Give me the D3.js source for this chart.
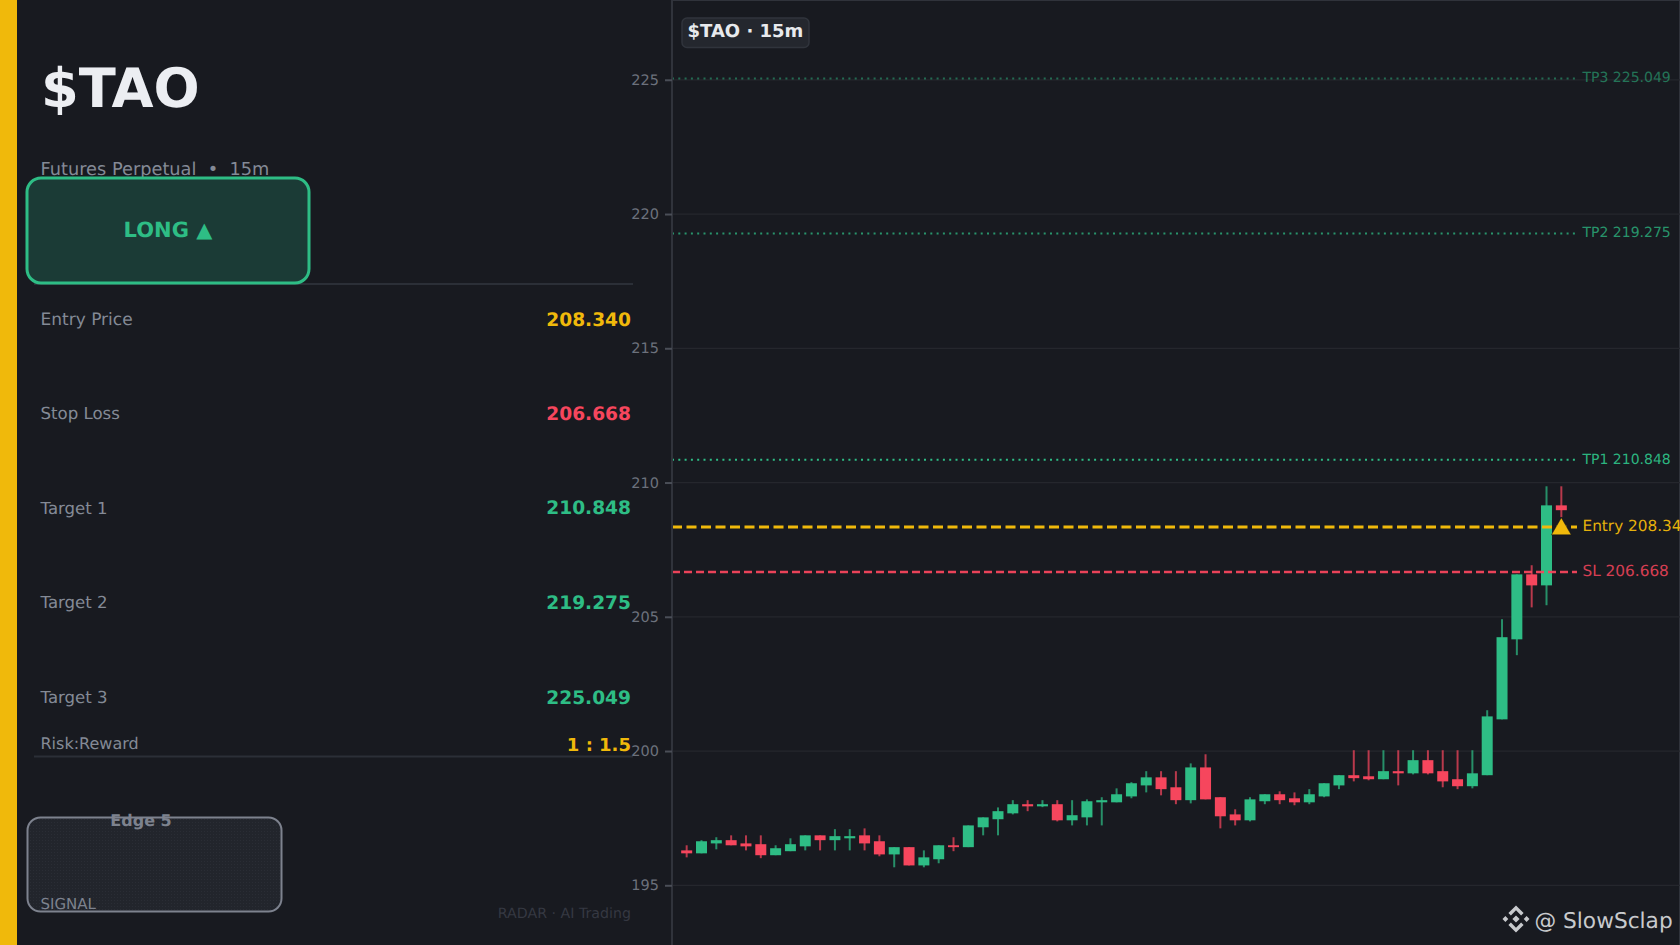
<!DOCTYPE html>
<html><head><meta charset="utf-8">
<script src="https://cdn.jsdelivr.net/npm/d3@7/dist/d3.min.js"></script>
<style>html,body{margin:0;padding:0;background:#181a20;overflow:hidden}svg{display:block}text{font-family:"DejaVu Sans",sans-serif;white-space:pre;text-rendering:geometricPrecision}</style>
</head><body><svg id="c" width="1680" height="945"></svg>
<script>
const opens=[196.30,196.19,196.56,196.68,196.56,196.53,196.12,196.27,196.45,196.86,196.68,196.75,196.86,196.64,196.15,196.42,195.74,195.97,196.49,196.42,197.16,197.46,197.68,198.02,197.94,198.02,197.42,197.53,198.09,198.09,198.31,198.72,199.02,198.65,198.17,199.39,198.28,197.64,197.42,198.13,198.39,198.24,198.09,198.31,198.72,199.10,199.06,198.95,199.25,199.17,199.66,199.25,198.95,198.69,199.10,201.18,204.16,206.58,206.17,209.15];
const highs=[196.49,196.68,196.79,196.86,196.86,196.86,196.49,196.75,196.86,196.86,197.09,197.09,197.12,196.86,196.42,196.42,196.30,196.49,196.79,197.23,197.53,197.90,198.17,198.17,198.17,198.17,198.17,198.20,198.28,198.61,198.84,199.25,199.25,199.25,199.54,199.88,198.28,197.83,198.28,198.39,198.50,198.46,198.58,198.80,199.10,200.03,200.03,200.03,200.03,200.03,200.03,200.03,200.03,200.03,201.52,204.91,206.58,206.92,209.86,209.86];
const lows=[196.04,196.19,196.34,196.49,196.30,196.01,196.12,196.27,196.30,196.30,196.30,196.30,196.30,196.08,195.67,195.74,195.67,195.82,196.27,196.42,196.86,196.86,197.64,197.76,197.91,197.38,197.23,197.23,197.23,198.09,198.24,198.46,198.35,198.02,198.05,198.20,197.12,197.23,197.38,198.02,198.02,197.98,198.02,198.28,198.58,198.87,198.91,198.95,198.72,199.13,199.13,198.65,198.58,198.61,199.10,201.18,203.57,205.35,205.43,208.71];
const closes=[196.19,196.64,196.68,196.49,196.45,196.12,196.38,196.53,196.86,196.68,196.83,196.83,196.56,196.15,196.42,195.74,196.04,196.49,196.42,197.23,197.53,197.76,198.02,197.94,198.02,197.42,197.61,198.13,198.17,198.39,198.80,199.02,198.58,198.17,199.39,198.20,197.57,197.42,198.20,198.39,198.17,198.09,198.39,198.80,199.10,198.99,198.95,199.25,199.17,199.66,199.17,198.87,198.69,199.17,201.29,204.24,206.58,206.17,209.15,208.97];
const priceTicks=[195,200,205,210,215,220,225];
const levelNames=["TP3 225.049","TP2 219.275","TP1 210.848","Entry 208.340","SL 206.668"];
const levelValues=[225.049,219.275,210.848,208.340,206.668];
const rowLabels=["Entry Price","Stop Loss","Target 1","Target 2","Target 3"];
const rowValues=["208.340","206.668","210.848","219.275","225.049"];
const entryPrice=208.340;

const GREEN="#2ebd85",RED="#f6465d",YEL="#f0b90b",BG="#181a20",GRAY="#848a96";
const svg=d3.select("#c");
const defs=svg.append("defs");
const pat=defs.append("pattern").attr("id","dots").attr("width",3).attr("height",3).attr("patternUnits","userSpaceOnUse");
pat.append("rect").attr("width",3).attr("height",3).attr("fill","#22252c");
pat.append("rect").attr("width",1).attr("height",1).attr("fill","#2a2d35");
svg.append("rect").attr("width",1680).attr("height",945).attr("fill",BG);
const T=(sel,x,y,t,o={})=>sel.append("text").attr("x",x).attr("y",y).text(t)
  .attr("font-size",o.s||16).attr("font-weight",o.w||400).attr("fill",o.c||GRAY)
  .attr("text-anchor",o.a||"start").attr("font-family",o.f||null);

/* left panel */
const L=svg.append("g");
L.append("rect").attr("width",17).attr("height",945).attr("fill",YEL);
T(L,41,107,"$TAO",{s:54.3,w:700,c:"#eceef2"});
T(L,40.5,175,"Futures Perpetual  •  15m",{s:17.75});
L.append("line").attr("x1",34).attr("x2",633).attr("y1",284).attr("y2",284).attr("stroke","#2b2f37").attr("stroke-width",2);
L.append("rect").attr("x",27).attr("y",178).attr("width",282).attr("height",105).attr("rx",14)
  .attr("fill","#1b3b36").attr("stroke",GREEN).attr("stroke-width",3);
T(L,168,236.5,"LONG ▲",{s:21,w:700,c:GREEN,a:"middle"});
const rowY=[325,419.3,513.6,607.9,702.7];
const rowSizes=[17,16.6,16.6,16.6,16.6];
rowLabels.forEach((r,i)=>{
  T(L,40.5,rowY[i],r,{s:rowSizes[i]});
  T(L,631,rowY[i]+0.8,rowValues[i],{s:18.6,w:700,a:"end",c:i==0?YEL:i==1?RED:GREEN});
});
T(L,40.5,749,"Risk:Reward",{s:16});
T(L,631,750.5,"1 : 1.5",{s:18,w:700,a:"end",c:YEL});
L.append("line").attr("x1",34).attr("x2",633).attr("y1",756.5).attr("y2",756.5).attr("stroke","#2b2f37").attr("stroke-width",2);
L.append("rect").attr("x",27.5).attr("y",817.5).attr("width",254).attr("height",94).attr("rx",13)
  .attr("fill","url(#dots)").attr("stroke","#7d828e").attr("stroke-width",2);
T(L,141,826,"Edge 5",{s:16,w:700,c:"#7d828e",a:"middle"});
T(L,40.5,909,"SIGNAL",{s:15,c:"#7d828e"});
T(L,631,918,"RADAR · AI Trading",{s:14.2,c:"#353842",a:"end"});

/* chart */
const y=d3.scaleLinear().domain([192.765,227.96]).range([945.3,0.3]);
const x=d3.scaleLinear().domain([0,opens.length-1]).range([686.67,1561.33]);
const G=svg.append("g");
G.append("line").attr("x1",672).attr("x2",1680).attr("y1",0.5).attr("y2",0.5).attr("stroke","#30333b");
G.append("line").attr("x1",1679.5).attr("x2",1679.5).attr("y1",0).attr("y2",945).attr("stroke","#30333b");
G.selectAll(".g").data(priceTicks).join("line").attr("x1",672).attr("x2",1680)
  .attr("y1",d=>y(d)).attr("y2",d=>y(d)).attr("stroke","#25272d").attr("stroke-width",1.2);
const ax=svg.append("g").attr("transform","translate(672,0)").call(d3.axisLeft(y).tickValues(priceTicks).tickSize(7).tickPadding(6).tickFormat(d3.format("d")));
ax.select(".domain").attr("d","M0,0V945").attr("stroke","#30333b").attr("stroke-width",2);
ax.selectAll(".tick line").attr("stroke","#4a4e57").attr("stroke-width",2);
ax.selectAll(".tick text").attr("fill","#6c717c").attr("font-size",14.5).attr("font-family","DejaVu Sans");

/* candles */
const cs=d3.range(opens.length);
const col=i=>closes[i]>=opens[i]?GREEN:RED;
G.selectAll(".w").data(cs).join("line").attr("x1",x).attr("x2",x)
  .attr("y1",i=>y(highs[i])).attr("y2",i=>y(lows[i])).attr("stroke",col).attr("stroke-width",2).attr("opacity",.72);
G.selectAll(".b").data(cs).join("rect").attr("x",i=>x(i)-5.5).attr("width",11)
  .attr("y",i=>y(Math.max(opens[i],closes[i]))).attr("height",i=>Math.max(1,Math.abs(y(opens[i])-y(closes[i])))).attr("fill",col);

/* levels */
const lvStyle=[
 {c:GREEN,o:.5,d:"2 4.3",w:2,to:.55,s:14},{c:GREEN,o:.75,d:"2 4.3",w:2,to:.75,s:14},{c:GREEN,o:1,d:"2 4.3",w:2,to:.95,s:14},
 {c:YEL,o:1,d:"10 4.5",w:3,to:.95,s:15.3},{c:RED,o:.95,d:"8 4",w:2.4,to:.85,s:15.3}];
levelValues.forEach((v,i)=>{
  const s=lvStyle[i];
  G.append("line").attr("x1",672).attr("x2",1577).attr("y1",y(v)).attr("y2",y(v))
    .attr("stroke",s.c).attr("stroke-width",s.w).attr("stroke-dasharray",s.d).attr("opacity",s.o);
  T(G,1582.5,y(v)+4,levelNames[i],{s:s.s,c:s.c}).attr("opacity",s.to);
});
/* entry marker */
G.append("path").attr("d",d3.symbol(d3.symbolTriangle,170))
  .attr("transform",`translate(${x(opens.length-1)},${y(entryPrice)+2})`)
  .attr("fill",YEL).attr("stroke","#111318").attr("stroke-width",.5);

/* badge */
G.append("rect").attr("x",682).attr("y",18).attr("width",127).attr("height",29.5).attr("rx",5)
  .attr("fill","#24272e").attr("stroke","#30343c").attr("stroke-width",1.5);
T(G,687.5,37.3,"$TAO · 15m",{s:18,w:700,c:"#e8eaed"});

/* watermark */
const W=svg.append("g").attr("transform","translate(1516,919)").attr("fill","#c8cacd");
const d=(cx,cy,r)=>`M${cx},${cy-r}L${cx+r},${cy}L${cx},${cy+r}L${cx-r},${cy}Z`;
W.append("path").attr("d",d(0,0,3.6)+d(-10.6,0,2.9)+d(10.6,0,2.9)
  +"M0,-13.5L7.6,-5.9L5.1,-3.6L0,-8.7L-5.1,-3.6L-7.6,-5.9Z"
  +"M0,13.5L7.6,5.9L5.1,3.6L0,8.7L-5.1,3.6L-7.6,5.9Z");
T(svg,1534.5,927.7,"@ SlowSclap",{s:21.7,c:"#c8cacd",f:"Noto Sans"});
</script></body></html>
